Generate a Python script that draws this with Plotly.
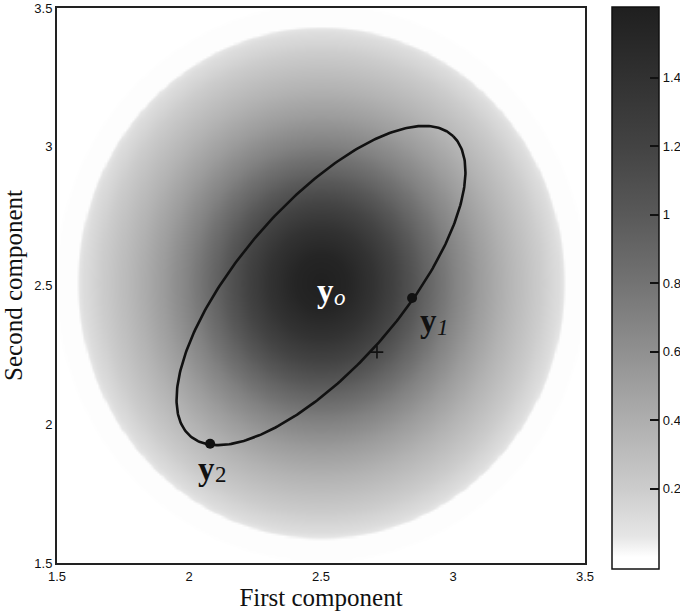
import numpy as np
import plotly.graph_objects as go

# ---- data ---------------------------------------------------------------
# radial profile of the density around its centre (distance, value)
profile_r = [0.00, 0.10, 0.20, 0.30, 0.40, 0.50, 0.60, 0.70, 0.80, 0.86, 0.90, 0.915, 0.925, 1.00, 1.01]
profile_z = [1.60, 1.54, 1.38, 1.16, 0.92, 0.70, 0.52, 0.37, 0.24, 0.16, 0.11, 0.07, 0.006, 0.004, 0.0]
density_centre = (2.50, 2.51)

# confidence ellipse around y_o: centre, semi-axes, orientation (degrees)
ellipse_centre = (2.50, 2.50)
ellipse_axes = (0.735, 0.300)
ellipse_angle = 47.0

# marked points
pt_y1 = (2.845, 2.455)
pt_y2 = (2.080, 1.930)
pt_plus = (2.712, 2.260)

# point labels: (main letter, subscript, anchor x, anchor y, colour, italic subscript)
point_labels = [
    ("y", "o", 2.549, 2.480, "white", True),
    ("y", "1", 2.938, 2.372, "#111", True),
    ("y", "2", 2.100, 1.840, "#111", False),
]

x_ticks = [1.5, 2.0, 2.5, 3.0, 3.5]
x_ticktext = ["1.5", "2", "2.5", "3", "3.5"]
y_ticks = [1.5, 2.0, 2.5, 3.0, 3.5]
y_ticktext = ["1.5", "2", "2.5", "3", "3.5"]
cb_ticks = [0.2, 0.4, 0.6, 0.8, 1.0, 1.2, 1.4]
cb_ticktext = ["0.2", "0.4", "0.6", "0.8", "1", "1.2", "1.4"]

# ---- density grid -------------------------------------------------------
gx = np.linspace(1.5, 3.5, 251)
gy = np.linspace(1.5, 3.5, 251)
XX, YY = np.meshgrid(gx, gy)
RR = np.hypot(XX - density_centre[0], YY - density_centre[1])
Z = np.interp(RR, profile_r, profile_z, right=0.0)

zmin, zmax = -0.034, 1.607
gray_stops = [(-0.034, "#ffffff"), (0.0, "#ffffff"), (0.01, "#fbfbfb"), (0.06, "#e6e6e6"),
              (0.2, "#cccccc"), (0.4, "#aeaeae"), (0.6, "#909090"), (0.8, "#737373"),
              (1.0, "#595959"), (1.2, "#434343"), (1.4, "#313131"), (1.607, "#1f1f1f")]
colorscale = [[(v - zmin) / (zmax - zmin), c] for v, c in gray_stops]
colorscale[0][0] = 0.0
colorscale[-1][0] = 1.0

cb_x = 1.0511
cb_y, cb_len = -0.0108, 1.0126

fig = go.Figure()
fig.add_trace(go.Heatmap(
    x=gx, y=gy, z=Z, zmin=zmin, zmax=zmax, colorscale=colorscale,
    zsmooth="best", hoverinfo="skip",
    colorbar=dict(
        x=cb_x, xanchor="left", xpad=0, ypad=0,
        y=cb_y, yanchor="bottom", len=cb_len, lenmode="fraction",
        thickness=47, outlinecolor="#111", outlinewidth=1.5,
        tickvals=cb_ticks, ticktext=cb_ticktext,
        ticks="inside", ticklen=9, tickwidth=2, tickcolor="#111",
        tickfont=dict(family="Liberation Sans", size=13, color="#111"),
    ),
))

# ellipse outline
t = np.linspace(0, 2 * np.pi, 361)
th = np.deg2rad(ellipse_angle)
a, b = ellipse_axes
ex = ellipse_centre[0] + a * np.cos(t) * np.cos(th) - b * np.sin(t) * np.sin(th)
ey = ellipse_centre[1] + a * np.cos(t) * np.sin(th) + b * np.sin(t) * np.cos(th)
fig.add_trace(go.Scatter(x=ex, y=ey, mode="lines", line=dict(color="#111", width=2.6),
                         hoverinfo="skip", showlegend=False))

# points y1, y2 and the cross
fig.add_trace(go.Scatter(x=[pt_y1[0], pt_y2[0]], y=[pt_y1[1], pt_y2[1]], mode="markers",
                         marker=dict(color="#111", size=10), hoverinfo="skip", showlegend=False))
fig.add_trace(go.Scatter(x=[pt_plus[0]], y=[pt_plus[1]], mode="markers",
                         marker=dict(symbol="cross-thin", size=9, line=dict(color="#111", width=1.6)),
                         hoverinfo="skip", showlegend=False))

serif = "Liberation Serif"
for main, sub, lx, ly, col, ital in point_labels:
    fig.add_annotation(x=lx, y=ly, text="<b>" + main + "</b>", showarrow=False,
                       xanchor="right", xshift=2,
                       font=dict(family=serif, size=33, color=col))
    fig.add_annotation(x=lx, y=ly, text=sub, showarrow=False,
                       xanchor="left", xshift=-2, yshift=-6,
                       font=dict(family=serif, size=23, color=col,
                                 style="italic" if ital else "normal"))

# tick marks on the left edge of the colour bar
for v in cb_ticks:
    yp = cb_y + (v - zmin) / (zmax - zmin) * cb_len
    fig.add_shape(type="line", xref="paper", yref="paper", x0=cb_x, x1=cb_x + 0.017, y0=yp, y1=yp,
                  line=dict(color="#111", width=2))

axis_common = dict(showline=True, linecolor="#222", linewidth=2, mirror=True, ticks="",
                   showgrid=False, zeroline=False,
                   tickfont=dict(family="Liberation Sans", size=13, color="#111"))
fig.update_xaxes(range=[1.5, 3.5], tickvals=x_ticks, ticktext=x_ticktext,
                 title=dict(text="First component", font=dict(family=serif, size=25, color="#111"),
                            standoff=4), **axis_common)
fig.update_yaxes(range=[1.5, 3.5], tickvals=y_ticks, ticktext=y_ticktext,
                 title=dict(text="Second component", font=dict(family=serif, size=25, color="#111"),
                            standoff=8), **axis_common)

fig.update_layout(width=680, height=614, margin=dict(l=57, r=95, t=8, b=51, autoexpand=False),
                  paper_bgcolor="white", plot_bgcolor="white", showlegend=False)

fig.write_html("out.html")
